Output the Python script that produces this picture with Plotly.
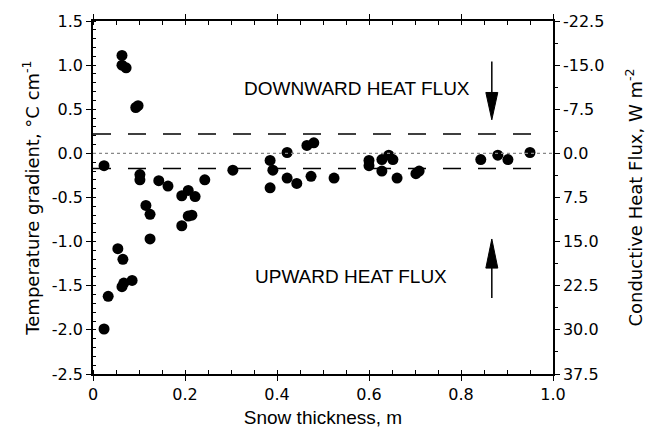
import plotly.graph_objects as go

# ---- data ----
snow_thickness = [0.024, 0.033, 0.024, 0.054, 0.065, 0.063, 0.067, 0.085,
                  0.063, 0.063, 0.072, 0.093, 0.098,
                  0.102, 0.102, 0.143, 0.163, 0.193, 0.207, 0.222, 0.243, 0.304,
                  0.115, 0.124, 0.124, 0.193, 0.207, 0.215,
                  0.385, 0.391, 0.385, 0.422, 0.422, 0.443, 0.465, 0.480, 0.474, 0.524,
                  0.600, 0.600, 0.628, 0.628, 0.643, 0.652, 0.661, 0.702, 0.709,
                  0.843, 0.880, 0.902, 0.950]
temp_gradient = [-0.14, -1.62, -1.99, -1.08, -1.20, -1.51, -1.47, -1.44,
                 1.11, 1.00, 0.97, 0.52, 0.54,
                 -0.24, -0.30, -0.31, -0.37, -0.48, -0.42, -0.49, -0.30, -0.19,
                 -0.59, -0.69, -0.97, -0.82, -0.71, -0.70,
                 -0.08, -0.19, -0.39, 0.01, -0.28, -0.34, 0.09, 0.12, -0.26, -0.28,
                 -0.08, -0.14, -0.07, -0.20, -0.02, -0.07, -0.28, -0.23, -0.20,
                 -0.07, -0.02, -0.07, 0.01]

x_tickvals = [0, 0.2, 0.4, 0.6, 0.8, 1.0]
x_ticktext = ["0", "0.2", "0.4", "0.6", "0.8", "1.0"]
y_tickvals = [1.5, 1.0, 0.5, 0.0, -0.5, -1.0, -1.5, -2.0, -2.5]
y_ticktext = ["1.5", "1.0", "0.5", "0.0", "-0.5", "-1.0", "-1.5", "-2.0", "-2.5"]
y2_tickvals = [-22.5, -15.0, -7.5, 0.0, 7.5, 15.0, 22.5, 30.0, 37.5]
y2_ticktext = ["-22.5", "-15.0", "-7.5", "0.0", "7.5", "15.0", "22.5", "30.0", "37.5"]

upper_threshold = 0.22
lower_threshold = -0.17
threshold_end = 0.96

# arrows (x position, shaft start, head base, tip)
down_arrow = dict(x=0.867, start=1.04, base=0.69, tip=0.38)
up_arrow = dict(x=0.867, start=-1.64, base=-1.30, tip=-0.97)
arrow_half_width = 0.013

TICK_FONT = dict(family="DejaVu Sans", size=16, color="black")
TITLE_FONT_SANS = dict(family="Liberation Sans", size=19, color="black")

fig = go.Figure()

fig.add_trace(go.Scatter(
    x=snow_thickness, y=temp_gradient, mode="markers",
    marker=dict(color="black", size=11), showlegend=False, cliponaxis=False))

# dummy on right axis so it is drawn
fig.add_trace(go.Scatter(x=[None], y=[None], yaxis="y2", showlegend=False))

shapes = []
# zero dotted line
shapes.append(dict(type="line", xref="x", yref="y", x0=0, x1=1, y0=0, y1=0,
                   line=dict(color="#888888", width=1.2, dash="dot")))
for yv in (upper_threshold, lower_threshold):
    shapes.append(dict(type="line", xref="x", yref="y", x0=0, x1=threshold_end, y0=yv, y1=yv,
                       line=dict(color="black", width=1.5, dash="18px,17px")))
for a in (down_arrow, up_arrow):
    shapes.append(dict(type="line", xref="x", yref="y", x0=a["x"], x1=a["x"],
                       y0=a["start"], y1=a["base"], line=dict(color="black", width=1.5)))
    path = (f"M {a['x'] - arrow_half_width},{a['base']} L {a['x'] + arrow_half_width},{a['base']} "
            f"L {a['x']},{a['tip']} Z")
    shapes.append(dict(type="path", xref="x", yref="y", path=path,
                       fillcolor="black", line=dict(color="black", width=1)))

fig.update_layout(
    width=660, height=437,
    margin=dict(l=93, r=107, t=14, b=62),
    paper_bgcolor="white", plot_bgcolor="white",
    shapes=shapes,
    xaxis=dict(range=[0, 1.0], tickvals=x_tickvals, ticktext=x_ticktext,
               ticks="outside", ticklen=5, tickwidth=1.2, tickcolor="black",
               minor=dict(dtick=0.05, tick0=0, ticks="inside", ticklen=4, tickcolor="black"),
               showline=True, linecolor="black", linewidth=1.5, mirror="ticks",
               showgrid=False, zeroline=False, tickfont=TICK_FONT,
               title=dict(text="Snow thickness, m", font=TITLE_FONT_SANS, standoff=8)),
    yaxis=dict(range=[-2.5, 1.5], tickvals=y_tickvals, ticktext=y_ticktext,
               ticks="outside", ticklen=5, tickwidth=1.2, tickcolor="black",
               minor=dict(dtick=0.1, tick0=0, ticks="inside", ticklen=3, tickcolor="black"),
               showline=True, linecolor="black", linewidth=1.5,
               showgrid=False, zeroline=False, tickfont=TICK_FONT,
               title=dict(text="Temperature gradient, °C cm<sup>-1</sup>",
                          font=dict(family="DejaVu Sans", size=18, color="black"), standoff=8)),
    yaxis2=dict(range=[37.5, -22.5], overlaying="y", side="right",
                tickvals=y2_tickvals, ticktext=y2_ticktext,
                ticks="outside", ticklen=5, tickwidth=1.2, tickcolor="black",
                minor=dict(dtick=3.75, tick0=0, ticks="outside", ticklen=3, tickcolor="black"),
                showline=True, linecolor="black", linewidth=1.5,
                showgrid=False, zeroline=False, tickfont=TICK_FONT,
                title=dict(text="Conductive Heat Flux, W m<sup>-2</sup>",
                           font=dict(family="DejaVu Sans", size=18, color="black"), standoff=26)),
    annotations=[
        dict(x=0.574, y=0.73, xref="x", yref="y", text="DOWNWARD HEAT FLUX",
             showarrow=False, font=TITLE_FONT_SANS),
        dict(x=0.561, y=-1.39, xref="x", yref="y", text="UPWARD HEAT FLUX",
             showarrow=False, font=TITLE_FONT_SANS),
    ],
)

fig.write_html("out.html")
